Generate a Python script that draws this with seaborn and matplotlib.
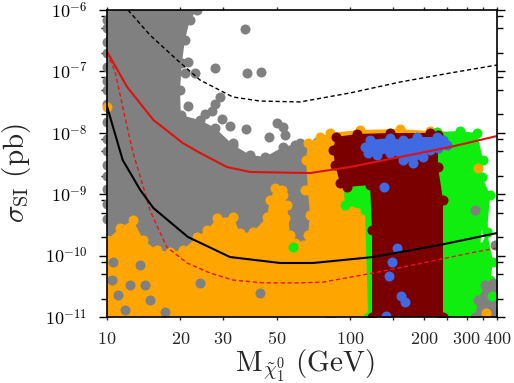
import matplotlib
matplotlib.use("Agg")
import matplotlib.pyplot as plt
import seaborn as sns
from matplotlib.ticker import FixedLocator, FixedFormatter, NullFormatter, LogLocator

# ---------------- data (mass in GeV, sigma_SI in pb) ----------------
# dense scan regions: outlines of the point clouds
gray_mass  = [10, 23.4, 21.9, 20.9, 20.3, 19.95, 20.1, 24.1, 27.8, 33.0, 38.7, 44.6, 52.8, 62.1, 72.9, 82.4, 82.4, 10]
gray_sigma = [1e-6, 1e-6, 6.9e-7, 3.24e-7, 1.37e-7, 4.98e-8, 1.95e-8, 1.61e-8, 1.20e-8, 6.33e-9, 4.35e-9, 4.04e-9,
              5.87e-9, 6.82e-9, 7.08e-9, 7.64e-9, 1e-11, 1e-11]
gray_pts_mass  = [36.9, 21.5, 20.9, 23.0, 27.8, 37.6, 42.9, 29.1, 27.8, 21.5, 27.0, 25.3, 29.7, 32.0, 37.2, 49.9,
                  52.8, 46.3, 53.9, 33.0, 31.4, 59.2]
gray_pts_sigma = [4.91e-7, 1.42e-7, 9.42e-8, 9.42e-8, 1.13e-7, 9.42e-8, 9.77e-8, 3.83e-8, 2.94e-8, 2.73e-8, 2.26e-8,
                  2.02e-8, 1.68e-8, 1.29e-8, 1.15e-8, 1.44e-8, 1.24e-8, 8.55e-9, 9.21e-9, 6.82e-9, 4.87e-9, 6.33e-9]
gray_edge_sigma = [7e-7, 5e-7, 3e-7, 2e-7, 1.2e-7, 7e-8, 5e-8, 3e-8, 1.5e-8, 8e-9, 5e-9, 3e-9, 2e-9, 1.2e-9, 7e-10, 4e-10]
gray_patch_mass  = [10.5, 11.1, 11.9, 12.4, 14.3, 15.0, 17.3, 24.1, 42.5, 13.7, 10.6]
gray_patch_sigma = [4.0e-11, 2.3e-11, 1.3e-11, 3.3e-11, 3.3e-11, 1.9e-11, 1.2e-11, 3.6e-11, 2.5e-11, 7.0e-11, 7.9e-11]
gray_right_mass  = [334, 357, 385.6, 400, 400, 325]
gray_right_sigma = [1.89e-11, 3.32e-11, 3.58e-11, 2.75e-11, 1e-11, 1e-11]
gray_right_pts_mass  = [325, 393]
gray_right_pts_sigma = [5.5e-10, 1.49e-10]

orange_mass  = [10, 10, 11.3, 12.8, 14.1, 16.0, 18.2, 20.5, 23.4, 25.8, 28.3, 33.0, 35.2, 39.8, 45.4, 46.7, 49.0,
                52.4, 54.9, 56.5, 59.2, 63.9, 66.9, 68.2, 66.9, 65.7, 66.9, 75.0, 82.4, 109.5, 159.9, 212.3, 233.4, 233.4]
orange_sigma = [1e-11, 1.79e-10, 2.82e-10, 3.80e-10, 1.79e-10, 1.23e-10, 1.15e-10, 1.23e-10, 2.01e-10, 2.61e-10,
                4.10e-10, 4.25e-10, 2.33e-10, 2.42e-10, 4.25e-10, 8.05e-10, 1.26e-9, 1.17e-9, 6.67e-10, 2.16e-10,
                1.60e-10, 1.49e-10, 2.16e-10, 4.58e-10, 1.17e-9, 3.60e-9, 6.82e-9, 8.55e-9, 9.93e-9, 1.11e-8,
                1.15e-8, 1.07e-8, 9.21e-9, 1e-11]
orange_pts_mass  = [52.8, 65.1, 53.9, 334, 361]
orange_pts_sigma = [9.7e-10, 1.17e-9, 4.10e-10, 2.67e-9, 1.16e-11]
orange_edge_mass  = [10]
orange_edge_sigma = [2.6e-8]

green_mass  = [93.3, 95.0, 114.8, 118.1, 400, 400, 385.6, 375, 385.6, 364, 341, 347, 341, 347, 364, 375, 347, 351,
               331, 282, 226.8, 226.8, 132]
green_sigma = [1.70e-9, 6.67e-10, 5.53e-10, 1e-11, 1e-11, 1.16e-11, 2.12e-11, 4.01e-11, 7.87e-11, 2.42e-10,
               1.38e-10, 3.15e-10, 5.53e-10, 3.15e-10, 2.42e-10, 9.7e-10, 1.91e-9, 3.60e-9, 9.93e-9, 1.07e-8,
               1.03e-8, 7.64e-9, 7.64e-9]
green_pts_mass  = [58.1, 382]
green_pts_sigma = [1.38e-10, 2.2e-11]

maroon_mass  = [84.8, 87.3, 106.4, 145.5, 212.3, 229, 229, 240.1, 240.1, 122.7, 122.7, 120.4, 96.8, 90.6, 86.5]
maroon_sigma = [5.25e-9, 8.55e-9, 9.56e-9, 9.93e-9, 9.93e-9, 9.21e-9, 2.77e-9, 8.05e-10, 1e-11, 1e-11, 2.61e-10,
                1.41e-9, 1.31e-9, 1.52e-9, 2.99e-9]

blue_mass  = [114.8, 120.4, 145.5, 164.5, 187.8, 226.8, 240.1, 249.3, 229, 212.3, 198.8, 180.8, 164.5, 145.5, 128.6, 118.1]
blue_sigma = [5.87e-9, 7.64e-9, 8.23e-9, 7.64e-9, 8.55e-9, 8.55e-9, 7.64e-9, 6.33e-9, 5.65e-9, 5.25e-9, 4.04e-9,
              3.22e-9, 3.60e-9, 4.69e-9, 4.35e-9, 4.69e-9]
blue_pts_mass  = [137.4, 155.4, 148.3, 144.1, 161.4, 167.6, 140.0]
blue_pts_sigma = [1.31e-9, 1.33e-10, 7.87e-11, 4.66e-11, 2.20e-11, 1.75e-11, 1.04e-11]

# limit curves
red_mass  = [10, 12.1, 15.5, 20.5, 24.1, 31.1, 38.7, 68.2, 99.5, 160, 257, 400]
red_sigma = [2.1e-7, 5.57e-8, 1.62e-8, 6.8e-9, 4.7e-9, 2.77e-9, 2.30e-9, 2.21e-9, 2.77e-9, 4.04e-9, 5.87e-9, 8.87e-9]
redd_mass  = [10, 10.8, 11.85, 12.8, 14.1, 15.0, 17.6, 21.3, 26.5, 32.9, 43.8, 62.1, 77.1, 124, 199, 310, 400]
redd_sigma = [2.0e-7, 9.8e-8, 1.8e-8, 4.7e-9, 1.31e-9, 5.5e-10, 1.38e-10, 7.6e-11, 5.2e-11, 4.0e-11, 3.6e-11,
              3.6e-11, 3.7e-11, 5.2e-11, 7.6e-11, 1.1e-10, 1.33e-10]
blk_mass  = [10, 11.6, 13.7, 15.5, 21.5, 32.0, 51.4, 70.2, 124, 233, 400]
blk_sigma = [2.7e-8, 3.6e-9, 1.17e-9, 5.96e-10, 2.01e-10, 9.48e-11, 7.58e-11, 7.58e-11, 9.48e-11, 1.49e-10, 2.33e-10]
blkd_mass  = [12.2, 15.0, 19.4, 24.1, 32.9, 42.5, 62.1, 99.5, 160, 257, 400]
blkd_sigma = [1e-6, 3.92e-7, 1.54e-7, 7.24e-8, 3.83e-8, 3.29e-8, 3.18e-8, 4.45e-8, 6.71e-8, 9.42e-8, 1.27e-7]

x_ticks = [10, 20, 30, 50, 100, 200, 300, 400]
x_tick_labels = [r"$10$", r"$20$", r"$30$", r"$50$", r"$100$", r"$200$", r"$300$", r"$400$"]
x_minor = [150, 250, 350]
y_ticks = [1e-11, 1e-10, 1e-9, 1e-8, 1e-7, 1e-6]
y_tick_labels = [r"$10^{-11}$", r"$10^{-10}$", r"$10^{-9}$", r"$10^{-8}$", r"$10^{-7}$", r"$10^{-6}$"]

# ---------------- style ----------------
sns.set_style("ticks")
plt.rcParams["mathtext.fontset"] = "cm"
plt.rcParams["font.family"] = ["DejaVu Serif"]

GRAY, ORANGE, GREEN, MAROON, BLUE = "#808080", "#FFA500", "#10EE10", "#7A0000", "#4169E1"
S = 52

fig = plt.figure(figsize=(5.14, 3.83), dpi=100)
ax = fig.add_axes([107 / 514, 1 - 317 / 383, 390 / 514, 307 / 383])
ax.set_xscale("log")
ax.set_yscale("log")
ax.set_xlim(10, 400)
ax.set_ylim(1e-11, 1e-6)


def cloud(mx, sy, color, z):
    ax.fill(mx, sy, color=color, lw=0, zorder=z)
    sns.scatterplot(x=mx, y=sy, color=color, s=S, linewidth=0, ax=ax, zorder=z)


def pts(mx, sy, color, z, clip=True):
    sns.scatterplot(x=mx, y=sy, color=color, s=S, linewidth=0, ax=ax, zorder=z, clip_on=clip)


cloud(gray_mass, gray_sigma, GRAY, 1)
pts(gray_pts_mass, gray_pts_sigma, GRAY, 1)
pts([10] * len(gray_edge_sigma), gray_edge_sigma, GRAY, 1, clip=False)
cloud(orange_mass, orange_sigma, ORANGE, 2)
pts(orange_edge_mass, orange_edge_sigma, ORANGE, 2, clip=False)
pts(gray_patch_mass, gray_patch_sigma, GRAY, 2.5)
cloud(green_mass, green_sigma, GREEN, 3)
cloud(gray_right_mass, gray_right_sigma, GRAY, 3.2)
pts(gray_right_pts_mass, gray_right_pts_sigma, GRAY, 3.2)
pts(orange_pts_mass, orange_pts_sigma, ORANGE, 3.4)
pts(green_pts_mass, green_pts_sigma, GREEN, 3.5)
cloud(maroon_mass, maroon_sigma, MAROON, 4)
cloud(blue_mass, blue_sigma, BLUE, 5)
pts(blue_pts_mass, blue_pts_sigma, BLUE, 5)

sns.lineplot(x=blkd_mass, y=blkd_sigma, sort=False, estimator=None, color="black", lw=1.0,
             linestyle=(0, (3, 2)), ax=ax, zorder=6)
sns.lineplot(x=red_mass, y=red_sigma, sort=False, estimator=None, color="#DD1111", lw=1.5, ax=ax, zorder=6)
sns.lineplot(x=redd_mass, y=redd_sigma, sort=False, estimator=None, color="#EE1111", lw=1.0,
             linestyle=(0, (3, 2)), ax=ax, zorder=6)
sns.lineplot(x=blk_mass, y=blk_sigma, sort=False, estimator=None, color="black", lw=1.5, ax=ax, zorder=6)

# ---------------- axes ----------------
ax.xaxis.set_major_locator(FixedLocator(x_ticks))
ax.xaxis.set_major_formatter(FixedFormatter(x_tick_labels))
ax.xaxis.set_minor_locator(FixedLocator(x_minor))
ax.xaxis.set_minor_formatter(NullFormatter())
ax.yaxis.set_major_locator(FixedLocator(y_ticks))
ax.yaxis.set_major_formatter(FixedFormatter(y_tick_labels))
ax.yaxis.set_minor_locator(LogLocator(base=10, subs=[2, 5, 8], numticks=30))
ax.yaxis.set_minor_formatter(NullFormatter())

ax.tick_params(axis="y", which="both", direction="out", left=True, right=True, width=1, colors="black",
               labelsize=13, pad=8)
ax.tick_params(axis="y", which="major", length=6)
ax.tick_params(axis="y", which="minor", length=4)
ax.tick_params(axis="x", which="both", direction="out", top=True, bottom=True, length=2, width=1,
               labelsize=13, pad=7)
for sp in ax.spines.values():
    sp.set_linewidth(1.2)
    sp.set_color("black")
    sp.set_zorder(10)

ax.set_xlabel(r"$\mathrm{M}_{\tilde{\chi}^0_1}\ \mathrm{(GeV)}$", fontsize=21)
ax.set_ylabel(r"$\sigma_{\mathrm{SI}}\ \mathrm{(pb)}$", fontsize=21)
ax.xaxis.set_label_coords(0.508, -0.1)
ax.yaxis.set_label_coords(-0.19, 0.47)

fig.savefig("out.png", dpi=100)
